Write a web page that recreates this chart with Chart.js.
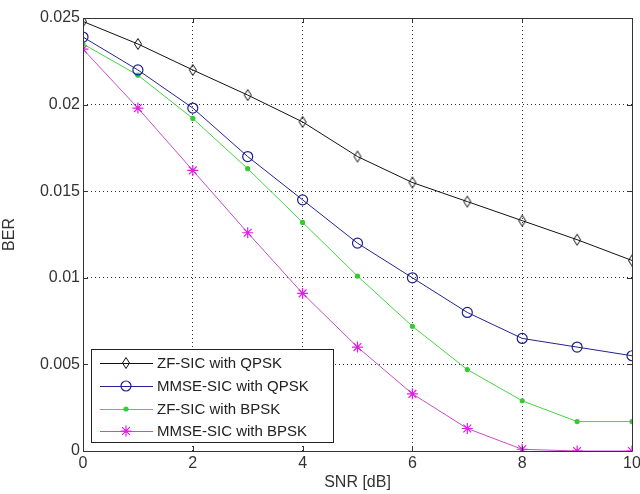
<!DOCTYPE html>
<html>
<head>
<meta charset="utf-8">
<script src="https://cdn.jsdelivr.net/npm/chart.js@4"></script>
<style>
html,body{margin:0;padding:0;background:#fff;}
#wrap{width:640px;height:494px;}
</style>
</head>
<body>
<div id="wrap"><canvas id="c" width="640" height="494"></canvas></div>
<script>
const snr = [0,1,2,3,4,5,6,7,8,9,10];
const zfQpsk   = [0.0248,0.0235,0.0220,0.02055,0.0190,0.0170,0.0155,0.0144,0.0133,0.0122,0.0110];
const mmseQpsk = [0.0239,0.0220,0.0198,0.0170,0.0145,0.0120,0.0100,0.0080,0.0065,0.0060,0.0055];
const zfBpsk   = [0.0235,0.0217,0.0192,0.0163,0.0132,0.0101,0.0072,0.0047,0.0029,0.0017,0.0017];
const mmseBpsk = [0.0232,0.0198,0.0162,0.0126,0.0091,0.0060,0.0033,0.0013,0.0001,0.0000,0.0000];
const seriesNames = ['ZF-SIC with QPSK','MMSE-SIC with QPSK','ZF-SIC with BPSK','MMSE-SIC with BPSK'];
const yTicks = [0,0.005,0.01,0.015,0.02,0.025];
const xTicks = [0,2,4,6,8,10];

const FONT = 'Liberation Sans, Arial, sans-serif';
const toPts = arr => arr.map((v,i)=>({x:snr[i],y:v}));

// tall open diamond marker (MATLAB style)
const diamond = document.createElement('canvas');
diamond.width = 10; diamond.height = 14;
(function(){
  const g = diamond.getContext('2d');
  g.strokeStyle = '#111'; g.lineWidth = 1;
  g.beginPath();
  g.moveTo(5,1.5); g.lineTo(8.5,7); g.lineTo(5,12.5); g.lineTo(1.5,7); g.closePath();
  g.stroke();
})();

const styles = [
  {color:'#111111', pointStyle:diamond, radius:5, fill:'rgba(255,255,255,0)', pcolor:'#222222'},
  {color:'#23238f', pointStyle:'circle', radius:5, fill:'rgba(255,255,255,0)', pcolor:'#1f1f90'},
  {color:'#44d444', pointStyle:'circle', radius:2, fill:'#33cc33', pcolor:'#33cc33'},
  {color:'#c84cc8', pointStyle:'star', radius:5.5, fill:'#e020e0', pcolor:'#e020e0'}
];
const allData = [zfQpsk, mmseQpsk, zfBpsk, mmseBpsk];

const datasets = allData.map((d,i)=>({
  label: seriesNames[i],
  data: toPts(d),
  borderColor: styles[i].color,
  backgroundColor: styles[i].fill,
  pointBorderColor: styles[i].pcolor,
  pointBackgroundColor: styles[i].fill,
  pointStyle: styles[i].pointStyle,
  pointRadius: styles[i].radius,
  pointBorderWidth: 1.2,
  borderWidth: 1,
  tension: 0,
  fill: false
}));

const framePlugin = {
  id:'frame',
  afterDatasetsDraw(chart){
    const ctx = chart.ctx, a = chart.chartArea;
    const xs = chart.scales.x, ys = chart.scales.y;
    ctx.save();
    ctx.strokeStyle = '#333';
    ctx.lineWidth = 1;
    ctx.beginPath();
    ctx.rect(Math.round(a.left)+0.5, Math.round(a.top)+0.5, Math.round(a.right-a.left), Math.round(a.bottom-a.top));
    ctx.stroke();
    ctx.beginPath();
    xTicks.forEach(t=>{
      const px = Math.round(xs.getPixelForValue(t))+0.5;
      ctx.moveTo(px,a.bottom); ctx.lineTo(px,a.bottom-5);
      ctx.moveTo(px,a.top); ctx.lineTo(px,a.top+5);
    });
    yTicks.forEach(t=>{
      const py = Math.round(ys.getPixelForValue(t))+0.5;
      ctx.moveTo(a.left,py); ctx.lineTo(a.left+5,py);
      ctx.moveTo(a.right,py); ctx.lineTo(a.right-5,py);
    });
    ctx.stroke();
    ctx.restore();
  },
  afterDraw(chart){
    const ctx = chart.ctx;
    const bx = 91.5, by = 349.5, bw = 242, bh = 93;
    ctx.save();
    ctx.fillStyle = '#fff';
    ctx.fillRect(bx,by,bw,bh);
    ctx.strokeStyle = '#222';
    ctx.lineWidth = 1;
    ctx.strokeRect(bx,by,bw,bh);
    ctx.font = '15px ' + FONT;
    ctx.textBaseline = 'middle';
    ctx.textAlign = 'left';
    const rows = [363,386,409,431];
    chart.data.datasets.forEach((ds,i)=>{
      const y = rows[i];
      ctx.strokeStyle = ds.borderColor;
      ctx.lineWidth = 1;
      ctx.beginPath(); ctx.moveTo(100,y+0.5); ctx.lineTo(153,y+0.5); ctx.stroke();
      ctx.lineWidth = 1.2;
      ctx.strokeStyle = ds.pointBorderColor;
      ctx.fillStyle = ds.pointBackgroundColor;
      Chart.helpers.drawPoint(ctx, {pointStyle: ds.pointStyle, radius: ds.pointRadius, rotation:0, borderWidth:1.2}, 126, y);
      ctx.fillStyle = '#222';
      ctx.fillText(ds.label, 157, y+1);
    });
    ctx.restore();
  }
};

new Chart(document.getElementById('c'), {
  type:'line',
  data:{datasets},
  options:{
    responsive:false,
    animation:false,
    devicePixelRatio:1,
    layout:{padding:{top:18,right:8,left:0,bottom:0}},
    plugins:{legend:{display:false},tooltip:{enabled:false}},
    scales:{
      x:{
        type:'linear', min:0, max:10,
        afterBuildTicks(s){ s.ticks = xTicks.map(v=>({value:v})); },
        afterFit(s){ s.height = 43; s.paddingLeft = 0; s.paddingRight = 0; },
        ticks:{color:'#333', font:{size:16,family:FONT}, padding:3, maxRotation:0},
        grid:{color:'#333', drawTicks:false, lineWidth:1},
        border:{display:false, dash:[1,3]},
        title:{display:true, text:'SNR [dB]', color:'#333', font:{size:16,family:FONT}, padding:{top:0,bottom:2}}
      },
      y:{
        type:'linear', min:0, max:0.025,
        afterBuildTicks(s){ s.ticks = yTicks.map(v=>({value:v})); },
        afterFit(s){ s.width = 83; s.paddingTop = 0; s.paddingBottom = 0; },
        ticks:{color:'#333', font:{size:16,family:FONT}, padding:3,
          callback:v=>String(Number(v.toFixed(3)))},
        grid:{color:'#333', drawTicks:false, lineWidth:1},
        border:{display:false, dash:[1,3]},
        title:{display:true, text:'BER', color:'#333', font:{size:16,family:FONT}, padding:{top:0,bottom:0}}
      }
    }
  },
  plugins:[framePlugin]
});
</script>
</body>
</html>
